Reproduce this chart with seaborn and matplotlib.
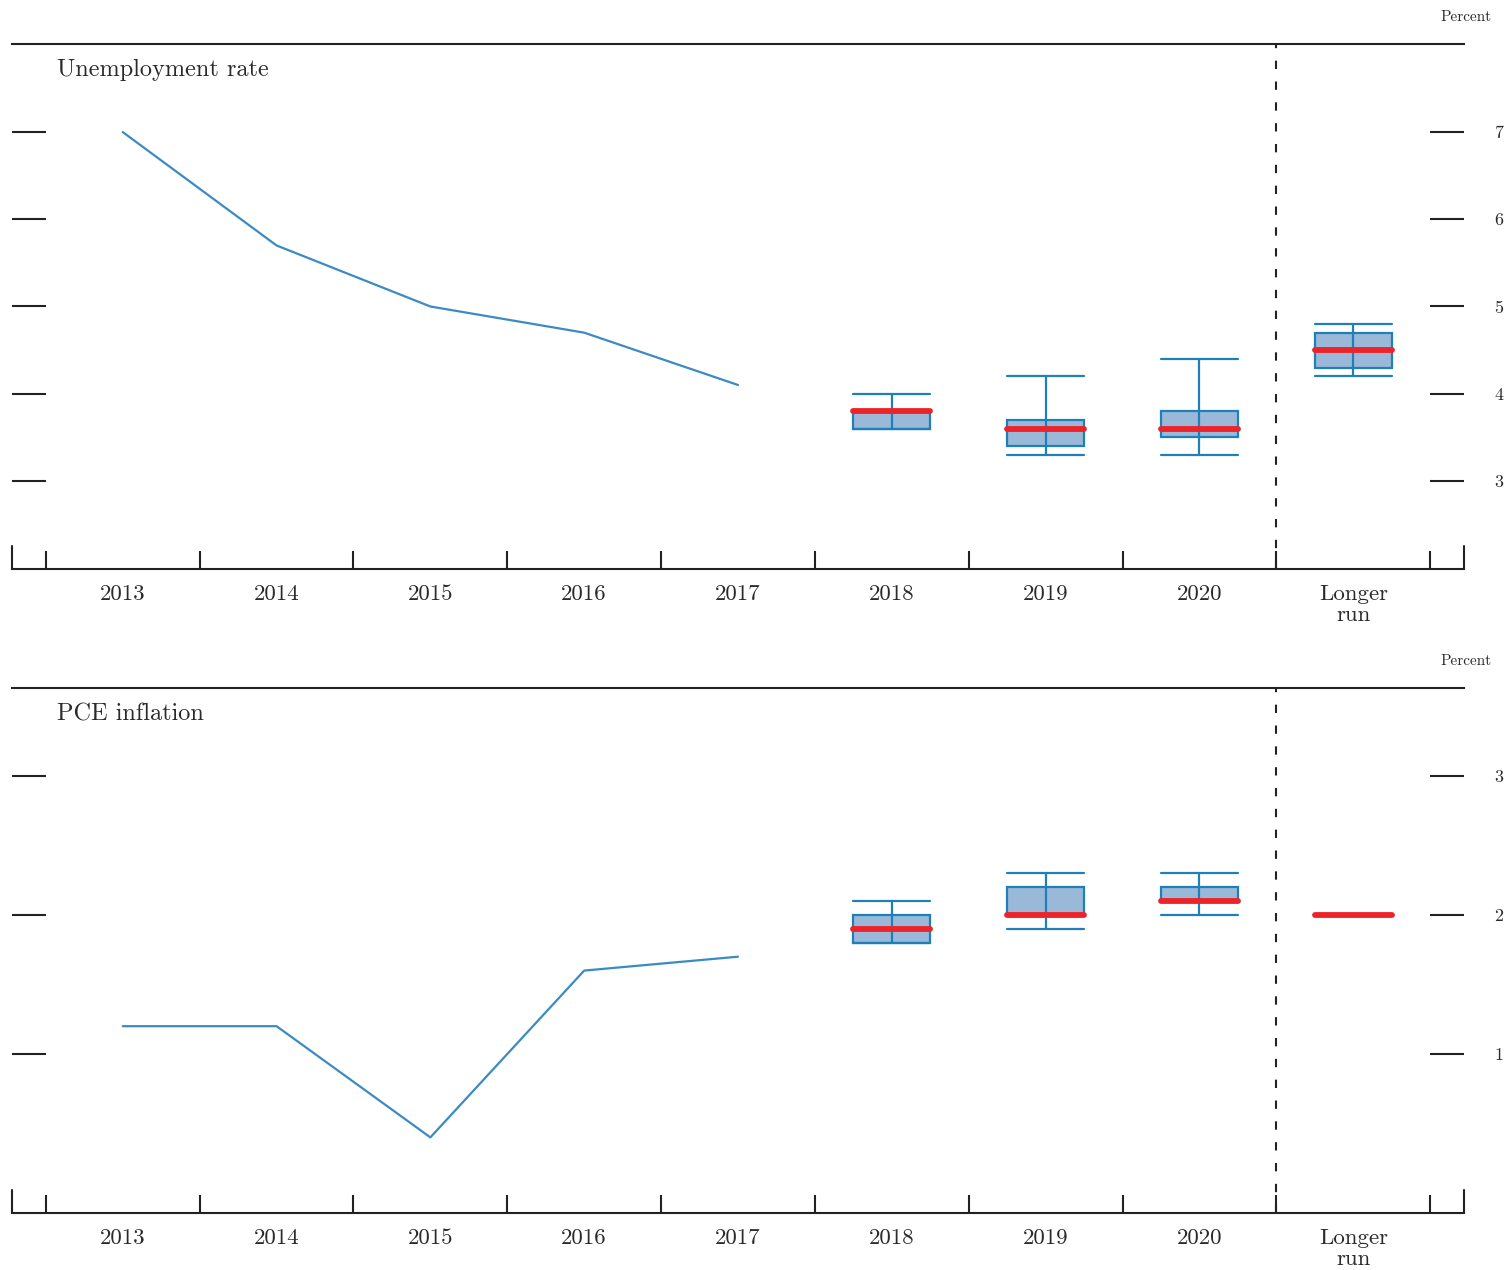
import matplotlib
matplotlib.use("Agg")
import matplotlib.pyplot as plt
import seaborn as sns
import pandas as pd

# ---- data ----
categories = ["2013", "2014", "2015", "2016", "2017", "2018", "2019", "2020", "Longer\nrun"]
hist_years = ["2013", "2014", "2015", "2016", "2017"]
proj_labels = ["2018", "2019", "2020", "Longer run"]

unemp_hist = [7.0, 5.7, 5.0, 4.7, 4.1]
unemp_median = [3.8, 3.6, 3.6, 4.5]
unemp_ct_low = [3.6, 3.4, 3.5, 4.3]
unemp_ct_high = [3.8, 3.7, 3.8, 4.7]
unemp_range_low = [3.6, 3.3, 3.3, 4.2]
unemp_range_high = [4.0, 4.2, 4.4, 4.8]

pce_hist = [1.2, 1.2, 0.4, 1.6, 1.7]
pce_median = [1.9, 2.0, 2.1, 2.0]
pce_ct_low = [1.8, 2.0, 2.1, 2.0]
pce_ct_high = [2.0, 2.2, 2.2, 2.0]
pce_range_low = [1.8, 1.9, 2.0, 2.0]
pce_range_high = [2.1, 2.3, 2.3, 2.0]

unemp_ticks = [3, 4, 5, 6, 7]
pce_ticks = [1, 2, 3]

# ---- style ----
sns.set_style("white")
plt.rcParams["font.family"] = ["cmr10", "DejaVu Serif"]
plt.rcParams["axes.formatter.use_mathtext"] = True

LINE_BLUE = "#3b8bc2"
BOX_EDGE = "#1f7fb8"
BOX_FILL = "#9ab9d9"
MED_RED = "#ee2229"
INK = "#222222"
TEXT = "#2a2a2a"

fig = plt.figure(figsize=(15.09, 12.70), dpi=100)
W, H = 1509, 1270
ax_left = 12 / W
ax_w = (1464 - 12) / W
ax_h = 525 / H
ax_top = fig.add_axes([ax_left, 1 - 569 / H, ax_w, ax_h])
ax_bot = fig.add_axes([ax_left, 1 - 1213 / H, ax_w, ax_h])


def draw_panel(ax, title, hist, med, ctl, cth, rl, rh, ylim, yticks):
    n_hist = len(hist)
    df = pd.DataFrame({"pos": list(range(n_hist)), "value": hist})
    sns.lineplot(data=df, x="pos", y="value", ax=ax, color=LINE_BLUE, lw=1.6)

    stats = []
    for lab, m, a, b, lo, hi in zip(proj_labels, med, ctl, cth, rl, rh):
        stats.append(dict(label=lab, med=m, q1=a, q3=b, whislo=lo, whishi=hi, fliers=[]))
    positions = list(range(n_hist, n_hist + len(stats)))
    ax.bxp(stats, positions=positions, widths=0.5, capwidths=0.5,
           patch_artist=True, showfliers=False, manage_ticks=False,
           boxprops=dict(facecolor=BOX_FILL, edgecolor=BOX_EDGE, linewidth=1.6, zorder=2),
           whiskerprops=dict(color=BOX_EDGE, linewidth=1.6),
           capprops=dict(color=BOX_EDGE, linewidth=1.6),
           medianprops=dict(color=MED_RED, linewidth=4.2, solid_capstyle="round",
                            zorder=4))
    # range line continues through the central-tendency box
    ax.vlines(positions, ctl, cth, color=BOX_EDGE, lw=1.6, zorder=3)

    ax.set_xlim(-0.72, len(categories) - 1 + 0.72)
    ax.set_ylim(*ylim)

    # dashed divider before the longer-run column
    ax.axvline(len(categories) - 1.5, color=INK, lw=1.5, ls=(0, (4, 6)))

    for s in ["left", "right"]:
        ax.spines[s].set_visible(False)
    for s in ["top", "bottom"]:
        ax.spines[s].set_visible(True)
        ax.spines[s].set_color(INK)
        ax.spines[s].set_linewidth(1.5)

    # end stubs on the baseline
    for xe in ax.get_xlim():
        ax.axvline(xe, ymin=0, ymax=23 / 525, color=INK, lw=1.5, clip_on=False)

    ax.set_xticks(range(len(categories)))
    ax.set_xticklabels(categories, fontsize=16.5, color=TEXT, linespacing=1.1)
    ax.set_xticks([i - 0.5 for i in range(len(categories) + 1)], minor=True)
    ax.tick_params(axis="x", which="major", length=0, pad=11)
    ax.tick_params(axis="x", which="minor", direction="in", length=13,
                   width=1.5, color=INK, bottom=True, top=False)

    ax.set_yticks(yticks)
    ax.set_yticklabels([str(t) for t in yticks], fontsize=13, color=TEXT)
    ax.tick_params(axis="y", which="major", direction="in", length=24.5, width=1.5,
                   color=INK, left=True, right=True, labelleft=False,
                   labelright=True, pad=22)

    ax.set_xlabel("")
    ax.set_ylabel("")
    ax.grid(False)

    ax.text(0.031, 0.950, title, transform=ax.transAxes, ha="left", va="center",
            fontsize=17.5, color=TEXT)
    ax.text(1.019, 1.051, "Percent", transform=ax.transAxes, ha="right",
            va="center", fontsize=11, color=TEXT)


draw_panel(ax_top, "Unemployment rate", unemp_hist, unemp_median, unemp_ct_low,
           unemp_ct_high, unemp_range_low, unemp_range_high, (1.99, 8.01), unemp_ticks)
draw_panel(ax_bot, "PCE inflation", pce_hist, pce_median, pce_ct_low,
           pce_ct_high, pce_range_low, pce_range_high, (-0.144, 3.633), pce_ticks)

fig.savefig("out.png", dpi=100, facecolor="white")
